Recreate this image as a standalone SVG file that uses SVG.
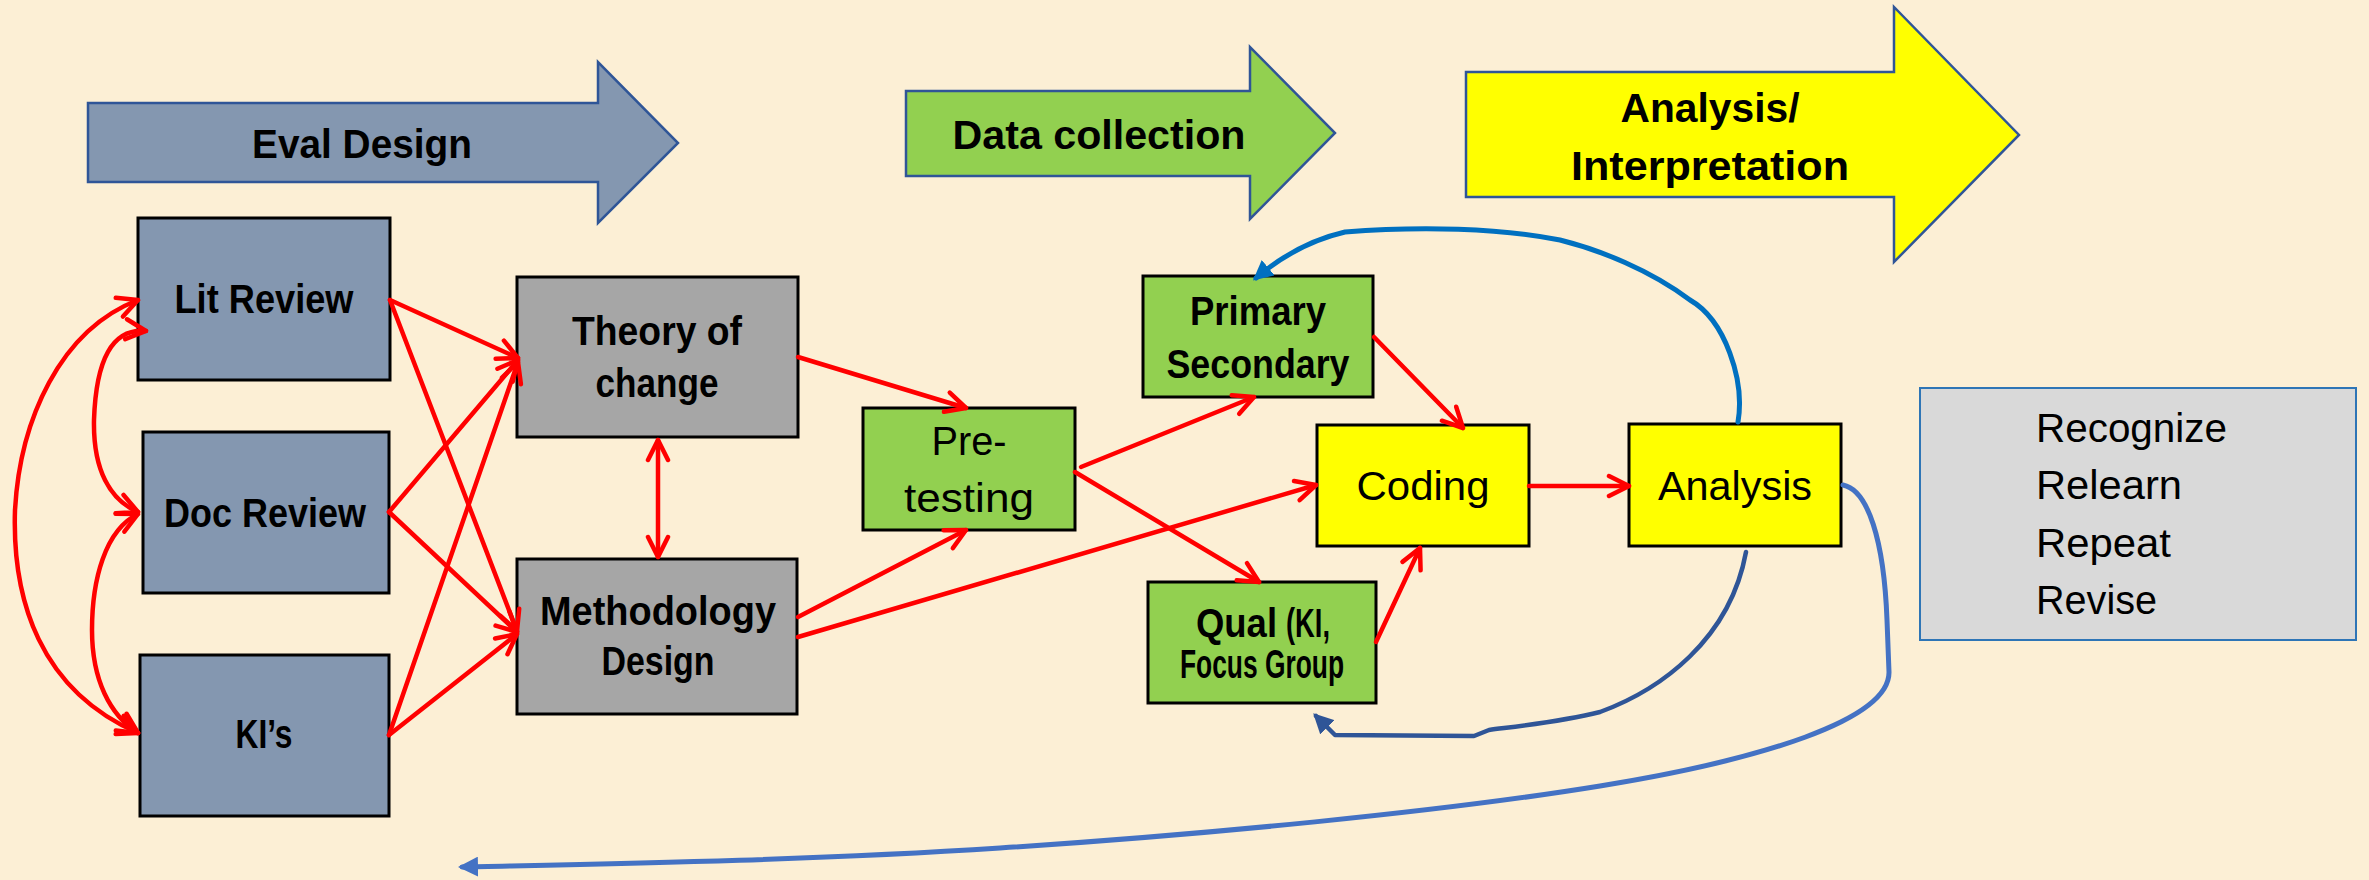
<svg xmlns="http://www.w3.org/2000/svg" width="2369" height="880" viewBox="0 0 2369 880">
<style>
.bg{fill:#FCEFD5}
.box{stroke:#000;stroke-width:3}
.blue{fill:#8497B0}
.grey{fill:#A6A6A6}
.green{fill:#92D050}
.yellow{fill:#FFFF00}
.big{stroke:#2F5597;stroke-width:2.5}
.tb{font-family:"Liberation Sans",Arial,sans-serif;font-weight:bold;font-size:40px;fill:#000}
.tr{font-family:"Liberation Sans",Arial,sans-serif;font-size:40px;fill:#000}
.red{fill:none;stroke:#FF0000;stroke-width:4.5;stroke-linecap:round}
</style>
<defs>
<marker id="ra" viewBox="0 0 26 26" refX="23" refY="13" markerWidth="26" markerHeight="26" markerUnits="userSpaceOnUse" orient="auto-start-reverse">
<path d="M3,3 L23,13 L3,23" fill="none" stroke="#FF0000" stroke-width="4.5" stroke-linecap="round" stroke-linejoin="round"/>
</marker>
<marker id="b1" viewBox="0 0 10 10" refX="8" refY="5" markerWidth="20" markerHeight="20" markerUnits="userSpaceOnUse" orient="auto">
<path d="M0,0 L10,5 L0,10 z" fill="#0070C0"/>
</marker>
<marker id="b2" viewBox="0 0 10 10" refX="8" refY="5" markerWidth="20" markerHeight="20" markerUnits="userSpaceOnUse" orient="auto">
<path d="M0,0 L10,5 L0,10 z" fill="#2F5597"/>
</marker>
<marker id="b3" viewBox="0 0 10 10" refX="8" refY="5" markerWidth="20" markerHeight="20" markerUnits="userSpaceOnUse" orient="auto">
<path d="M0,0 L10,5 L0,10 z" fill="#4472C4"/>
</marker>
</defs>
<rect class="bg" x="0" y="0" width="2369" height="880"/>

<g id="phase-eval">
<polygon class="blue big" points="88,103 598,103 598,62 678,143 598,223 598,182 88,182"/>
<text class="tb" x="362" y="158" text-anchor="middle" textLength="220" lengthAdjust="spacingAndGlyphs">Eval Design</text>
</g>
<g id="phase-data">
<polygon class="green big" points="906,91 1250,91 1250,47 1335,133 1250,219 1250,176 906,176"/>
<text class="tb" x="1099" y="149" text-anchor="middle" textLength="293" lengthAdjust="spacingAndGlyphs">Data collection</text>
</g>
<g id="phase-analysis">
<polygon class="yellow big" points="1466,72 1894,72 1894,7 2019,135 1894,262 1894,197 1466,197"/>
<text class="tb" x="1710" y="122" text-anchor="middle" textLength="179" lengthAdjust="spacingAndGlyphs">Analysis/</text>
<text class="tb" x="1710" y="180" text-anchor="middle" textLength="278" lengthAdjust="spacingAndGlyphs">Interpretation</text>
</g>

<g id="lit-review">
<rect class="box blue" x="138" y="218" width="252" height="162"/>
<text class="tb" x="264" y="313" text-anchor="middle" textLength="179" lengthAdjust="spacingAndGlyphs">Lit Review</text>
</g>
<g id="doc-review">
<rect class="box blue" x="143" y="432" width="246" height="161"/>
<text class="tb" x="265" y="527" text-anchor="middle" textLength="202" lengthAdjust="spacingAndGlyphs">Doc Review</text>
</g>
<g id="kis">
<rect class="box blue" x="140" y="655" width="249" height="161"/>
<text class="tb" x="264" y="748" text-anchor="middle" textLength="57" lengthAdjust="spacingAndGlyphs">KI’s</text>
</g>
<g id="theory">
<rect class="box grey" x="517" y="277" width="281" height="160"/>
<text class="tb" x="657" y="345" text-anchor="middle" textLength="170" lengthAdjust="spacingAndGlyphs">Theory of</text>
<text class="tb" x="657" y="397" text-anchor="middle" textLength="123" lengthAdjust="spacingAndGlyphs">change</text>
</g>
<g id="methodology">
<rect class="box grey" x="517" y="559" width="280" height="155"/>
<text class="tb" x="658" y="625" text-anchor="middle" textLength="236" lengthAdjust="spacingAndGlyphs">Methodology</text>
<text class="tb" x="658" y="675" text-anchor="middle" textLength="113" lengthAdjust="spacingAndGlyphs">Design</text>
</g>
<g id="pretesting">
<rect class="box green" x="863" y="408" width="212" height="122"/>
<text class="tr" x="969" y="455" text-anchor="middle" textLength="75" lengthAdjust="spacingAndGlyphs">Pre-</text>
<text class="tr" x="969" y="512" text-anchor="middle" textLength="130" lengthAdjust="spacingAndGlyphs">testing</text>
</g>
<g id="primary">
<rect class="box green" x="1143" y="276" width="230" height="121"/>
<text class="tb" x="1258" y="325" text-anchor="middle" textLength="136" lengthAdjust="spacingAndGlyphs">Primary</text>
<text class="tb" x="1258" y="378" text-anchor="middle" textLength="183" lengthAdjust="spacingAndGlyphs">Secondary</text>
</g>
<g id="qual">
<rect class="box green" x="1148" y="582" width="228" height="121"/>
<text class="tb" x="1196" y="637" textLength="81" lengthAdjust="spacingAndGlyphs">Qual</text>
<text class="tb" x="1286" y="637" font-size="26" textLength="44" lengthAdjust="spacingAndGlyphs">(KI,</text>
<text class="tb" x="1262" y="678" font-size="26" text-anchor="middle" textLength="164" lengthAdjust="spacingAndGlyphs">Focus Group</text>
</g>
<g id="coding">
<rect class="box yellow" x="1317" y="425" width="212" height="121"/>
<text class="tr" x="1423" y="500" text-anchor="middle" textLength="133" lengthAdjust="spacingAndGlyphs">Coding</text>
</g>
<g id="analysis">
<rect class="box yellow" x="1629" y="424" width="212" height="122"/>
<text class="tr" x="1735" y="500" text-anchor="middle" textLength="154" lengthAdjust="spacingAndGlyphs">Analysis</text>
</g>
<g id="recognize">
<rect x="1920" y="388" width="436" height="252" fill="#D9D9D9" stroke="#2E75B6" stroke-width="2"/>
<text class="tr" x="2036" y="442" textLength="191" lengthAdjust="spacingAndGlyphs">Recognize</text>
<text class="tr" x="2036" y="499" textLength="146" lengthAdjust="spacingAndGlyphs">Relearn</text>
<text class="tr" x="2036" y="557" textLength="135" lengthAdjust="spacingAndGlyphs">Repeat</text>
<text class="tr" x="2036" y="614" textLength="121" lengthAdjust="spacingAndGlyphs">Revise</text>
</g>

<g id="connectors">
<path class="red" d="M138,300 C60,330 20,420 15,510 C12,600 40,690 138,733" marker-start="url(#ra)" marker-end="url(#ra)"/>
<path class="red" d="M146,331 C112,328 96,360 94,420 C93,470 110,500 138,512" marker-start="url(#ra)" marker-end="url(#ra)"/>
<path class="red" d="M138,514 C105,530 92,580 92,630 C92,680 110,715 138,733" marker-start="url(#ra)" marker-end="url(#ra)"/>
<path class="red" d="M390,300 L518,358" marker-end="url(#ra)"/>
<path class="red" d="M390,300 L517,631" marker-end="url(#ra)"/>
<path class="red" d="M389,512 L518,360" marker-end="url(#ra)"/>
<path class="red" d="M389,512 L517,632" marker-end="url(#ra)"/>
<path class="red" d="M389,735 L518,362" marker-end="url(#ra)"/>
<path class="red" d="M389,735 L517,634" marker-end="url(#ra)"/>
<path class="red" d="M658,440 L658,557" marker-start="url(#ra)" marker-end="url(#ra)"/>
<path class="red" d="M798,357 L966,408" marker-end="url(#ra)"/>
<path class="red" d="M798,617 L966,530" marker-end="url(#ra)"/>
<path class="red" d="M798,637 L1316,485" marker-end="url(#ra)"/>
<path class="red" d="M1081,467 L1254,397" marker-end="url(#ra)"/>
<path class="red" d="M1075,472 L1259,582" marker-end="url(#ra)"/>
<path class="red" d="M1374,337 L1463,428" marker-end="url(#ra)"/>
<path class="red" d="M1376,642 L1420,548" marker-end="url(#ra)"/>
<path class="red" d="M1529,486 L1629,486" marker-end="url(#ra)"/>
<path d="M1738,422 C1745,380 1725,320 1690,300 C1650,270 1600,250 1560,240 C1500,228 1420,226 1345,232 C1310,240 1282,256 1256,278" fill="none" stroke="#0070C0" stroke-width="5" stroke-linecap="round" marker-end="url(#b1)"/>
<path d="M1746,552 C1730,640 1660,690 1600,712 C1560,722 1520,726 1489,730 L1474,736 L1335,735 L1316,716" fill="none" stroke="#2F5597" stroke-width="4.5" stroke-linecap="round" stroke-linejoin="round" marker-end="url(#b2)"/>
<path d="M1843,485 C1868,490 1884,540 1887,620 L1889,672 C1890,720 1760,760 1600,786 S1200,835 1000,848 S600,864 462,867" fill="none" stroke="#4472C4" stroke-width="5" stroke-linecap="round" marker-end="url(#b3)"/>
</g>
</svg>
